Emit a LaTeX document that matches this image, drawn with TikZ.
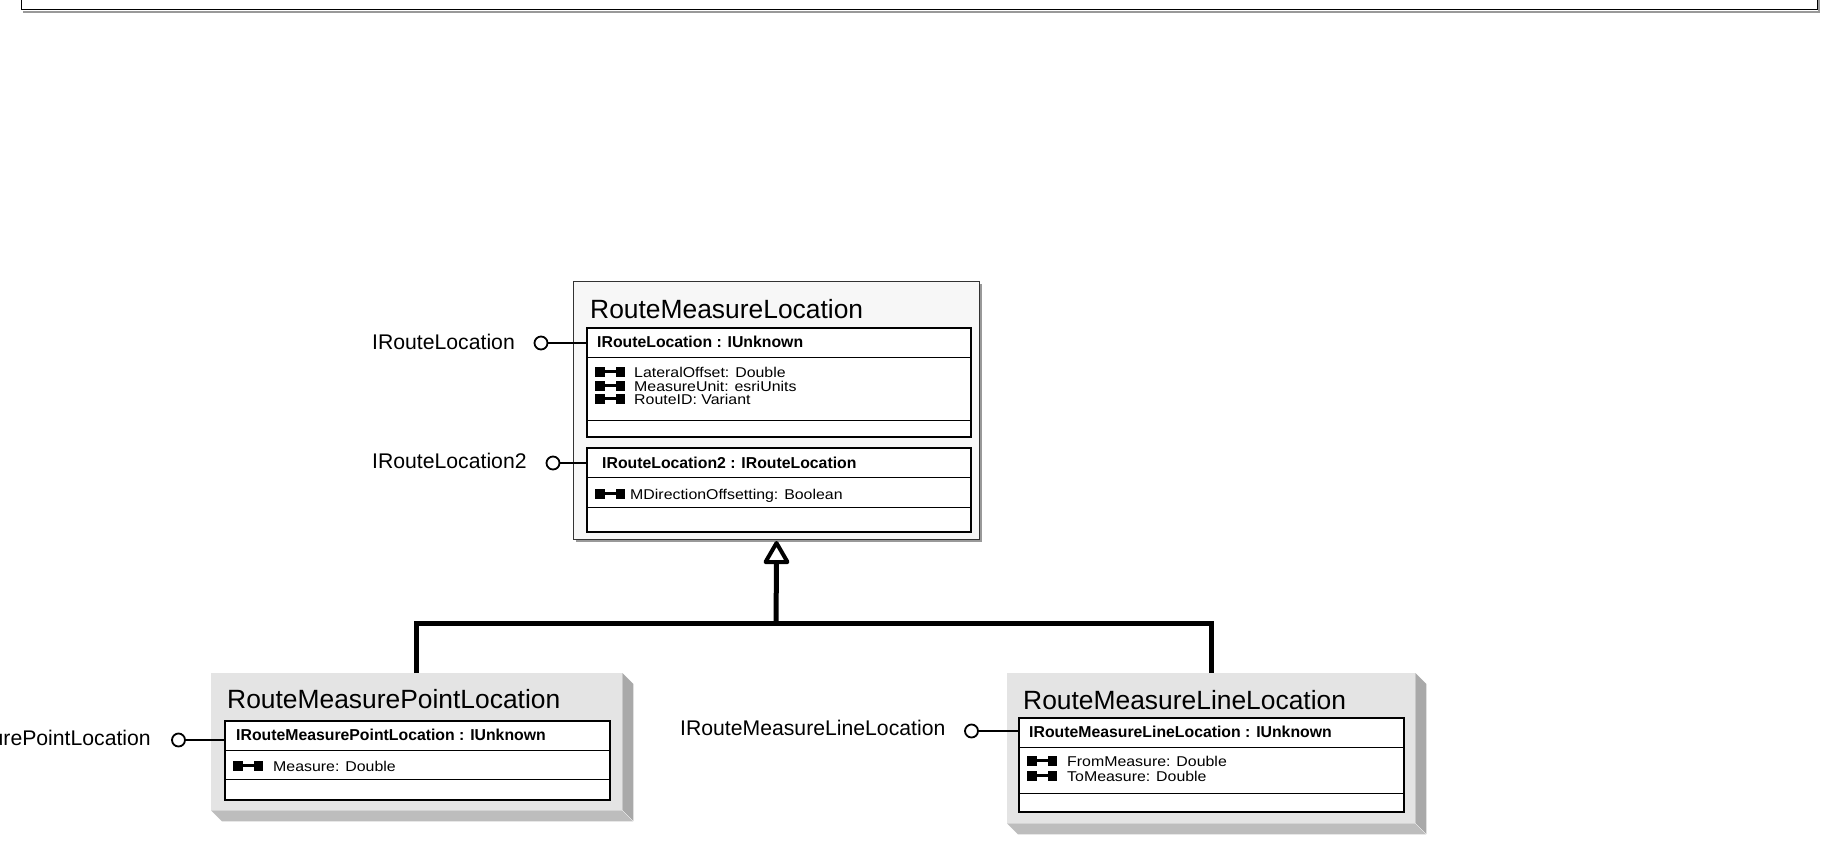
\documentclass[tikz,border=0pt]{standalone}
\usepackage{fontspec}
\setmainfont{Liberation Sans}
\newfontfamily\attrfont[FakeStretch=1.12]{Liberation Sans}
\usetikzlibrary{arrows.meta}
\definecolor{mainfill}{HTML}{F7F7F7}
\definecolor{facefill}{HTML}{E4E4E4}
\definecolor{shadeR}{HTML}{A9A9A9}
\definecolor{shadeB}{HTML}{BDBDBD}
\definecolor{frameshadow}{HTML}{999999}
\tikzset{
  titletext/.style={anchor=base west, inner sep=0, font=\fontsize{26.4}{30}\selectfont},
  hdrtext/.style={anchor=base west, inner sep=0, font=\fontsize{15.8}{18}\selectfont\bfseries},
  attrtext/.style={anchor=base west, inner sep=0, font=\attrfont\fontsize{14.2}{14}\selectfont},
  lbltext/.style={inner sep=0, font=\fontsize{21.2}{24}\selectfont},
  ifbox/.style={draw=black, line width=2pt, fill=white, rectangle, inner sep=0, anchor=north west},
  facebox/.style={fill=facefill, rectangle, inner sep=0, anchor=north west},
  sepline/.style={line width=1pt},
  lolli/.style={circle, draw=black, line width=1.8pt, fill=white, minimum size=13pt, inner sep=0},
  lolline/.style={line width=1.8pt},
  gen/.style={line width=5pt},
  gentip/.style={line width=4pt, line join=round, fill=white},
  propicon/.pic={
    \fill (0,0) rectangle (9.5,-10);
    \fill (20.5,0) rectangle (30,-10);
    \draw[line width=2.5pt] (9.5,-5.5) -- (20.5,-5.5);
  }
}
\begin{document}
\begin{tikzpicture}[x=1pt,y=-1pt]
\useasboundingbox (0,0) rectangle (1829,846);
\clip (0,0) rectangle (1829,846);
\fill[white] (0,0) rectangle (1829,846);

% top frame (cut off)
\draw[frameshadow, line width=2pt] (23,12) -- (1819,12) -- (1819,-5);
\draw[line width=1pt] (21,-5) -- (21,9.5) -- (1817,9.5) -- (1817,-5);

% ===== main class =====
\draw[frameshadow, line width=2pt] (576,541) -- (981,541) -- (981,284);
\node[draw=black!80, line width=1pt, fill=mainfill, rectangle, inner sep=0, anchor=north west,
      minimum width=406pt, minimum height=258pt] (mb) at (573,281) {};
\node[titletext] (mbt) at (590,318) {RouteMeasureLocation};

\node[ifbox, minimum width=384pt, minimum height=109pt] (ib1) at (586,327) {};
\draw[sepline] (ib1.north west) ++(0,30) -- ++(384,0);
\draw[sepline] (ib1.north west) ++(0,93) -- ++(384,0);
\node[hdrtext] (ib1h) at (597,347) {IRouteLocation : IUnknown};
\pic at (595,377) {propicon};
\node[attrtext] (a11) at (634,377) {LateralOffset: Double};
\pic at (595,391) {propicon};
\node[attrtext] (a12) at (634,391) {MeasureUnit: esriUnits};
\pic at (595,404) {propicon};
\node[attrtext] (a13) at (634,404) {RouteID: Variant};

\node[ifbox, minimum width=384pt, minimum height=84pt] (ib2) at (586,447) {};
\draw[sepline] (ib2.north west) ++(0,30) -- ++(384,0);
\draw[sepline] (ib2.north west) ++(0,60) -- ++(384,0);
\node[hdrtext] (ib2h) at (602,468) {IRouteLocation2 : IRouteLocation};
\pic at (595,499) {propicon};
\node[attrtext] (a21) at (630,499) {MDirectionOffsetting: Boolean};

% lollipops main
\node[lbltext, anchor=base west] (l1t) at (372,349) {IRouteLocation};
\node[lolli] (l1c) at (541,343) {};
\draw[lolline] (l1c) -- (l1c -| ib1.west);
\node[lbltext, anchor=base west] (l2t) at (372,468) {IRouteLocation2};
\node[lolli] (l2c) at (553,463) {};
\draw[lolline] (l2c) -- (l2c -| ib2.west);

% ===== RouteMeasurePointLocation =====
\node[facebox, minimum width=411pt, minimum height=137pt] (pl) at (211,673) {};
\fill[shadeR] (pl.north east) -- ++(11,11) -- ++(0,137) -- ++(-11,-11) -- cycle;
\fill[shadeB] (pl.south west) -- ++(11,11) -- ++(411,0) -- ++(-11,-11) -- cycle;
\node[titletext] (plt) at (227,708) {RouteMeasurePointLocation};
\node[ifbox, minimum width=385pt, minimum height=79pt] (pib) at (224,720) {};
\draw[sepline] (pib.north west) ++(0,30) -- ++(385,0);
\draw[sepline] (pib.north west) ++(0,59) -- ++(385,0);
\node[hdrtext] (pibh) at (236,740) {IRouteMeasurePointLocation : IUnknown};
\pic at (233,771) {propicon};
\node[attrtext] (pa1) at (273,771) {Measure: Double};
\node[lbltext, anchor=base east] (l3t) at (151,745) {IRouteMeasurePointLocation};
\node[lolli] (l3c) at (178.5,740) {};
\draw[lolline] (l3c) -- (l3c -| pib.west);

% ===== RouteMeasureLineLocation =====
\node[facebox, minimum width=408pt, minimum height=150pt] (ll) at (1007,673) {};
\fill[shadeR] (ll.north east) -- ++(11,11) -- ++(0,150) -- ++(-11,-11) -- cycle;
\fill[shadeB] (ll.south west) -- ++(11,11) -- ++(408,0) -- ++(-11,-11) -- cycle;
\node[titletext] (llt) at (1023,709) {RouteMeasureLineLocation};
\node[ifbox, minimum width=385pt, minimum height=94pt] (lib) at (1018,717) {};
\draw[sepline] (lib.north west) ++(0,30) -- ++(385,0);
\draw[sepline] (lib.north west) ++(0,76) -- ++(385,0);
\node[hdrtext] (libh) at (1029,737) {IRouteMeasureLineLocation : IUnknown};
\pic at (1027,766) {propicon};
\node[attrtext] (la1) at (1067,766) {FromMeasure: Double};
\pic at (1027,781) {propicon};
\node[attrtext] (la2) at (1067,781) {ToMeasure: Double};
\node[lbltext, anchor=base west] (l4t) at (680,735) {IRouteMeasureLineLocation};
\node[lolli] (l4c) at (971.5,731) {};
\draw[lolline] (l4c) -- (l4c -| lib.west);

% ===== generalization =====
\coordinate (j) at (776,623);
\draw[gen] (pl.north) |- (j) -| (ll.north);
\draw[gen] (j) -- (mb.south |- 0,561);
\draw[gentip] (mb.south) ++(0,3) -- ++(-11,19) -- ++(22,0) -- cycle;
\end{tikzpicture}
\end{document}
